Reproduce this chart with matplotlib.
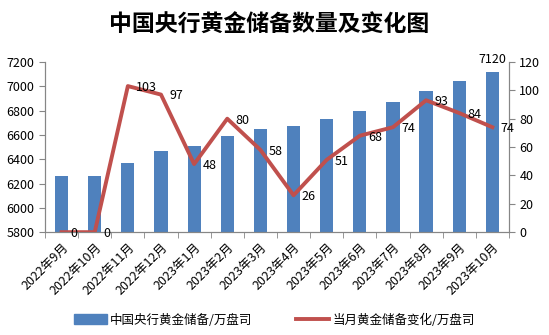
import numpy as np
import matplotlib.pyplot as plt
from matplotlib.lines import Line2D
from matplotlib.patches import Patch

plt.rcParams['font.family'] = ['Noto Sans CJK SC', 'DejaVu Sans']

# Monthly data
months = ['2022年9月', '2022年10月', '2022年11月', '2022年12月', '2023年1月',
          '2023年2月', '2023年3月', '2023年4月', '2023年5月', '2023年6月',
          '2023年7月', '2023年8月', '2023年9月', '2023年10月']
reserves = [6264, 6264, 6367, 6464, 6512, 6592, 6650, 6676, 6727, 6795,
            6869, 6962, 7046, 7120]
changes = [0, 0, 103, 97, 48, 80, 58, 26, 51, 68, 74, 93, 84, 74]

bar_color = '#4F81BD'
line_color = '#C0504D'
axis_color = '#868686'

fig = plt.figure(figsize=(5.49, 3.35), dpi=100)
ax = fig.add_axes([0.082, 0.307, 0.845, 0.508])
ax2 = ax.twinx()

x = np.arange(len(months))
ax.bar(x, reserves, width=0.4, color=bar_color, zorder=2)
ax.set_ylim(5800, 7200)
ax.set_yticks(range(5800, 7201, 200))
ax.set_xlim(-0.5, len(months) - 0.5)

# last bar value
ax.annotate(str(reserves[-1]), (x[-1], reserves[-1]), xytext=(0, 4),
            textcoords='offset points', ha='center', va='bottom', fontsize=9)

ax2.plot(x, changes, color=line_color, lw=2.8, zorder=3)
ax2.set_ylim(0, 120)
ax2.set_yticks(range(0, 121, 20))
for xi, v in zip(x, changes):
    ax2.annotate(str(v), (xi, v), xytext=(6, -1), textcoords='offset points',
                 ha='left', va='center', fontsize=9)

# category boundaries as ticks, labels at centres
ax.set_xticks(np.arange(-0.5, len(months), 1), minor=True)
ax.set_xticks(x)
ax.set_xticklabels(months, rotation=45, ha='right', rotation_mode='anchor', fontsize=9)
ax.tick_params(axis='x', which='major', length=0, pad=6)
ax.tick_params(axis='x', which='minor', length=4, color=axis_color)
ax.tick_params(axis='y', length=4, color=axis_color, labelsize=9)
ax2.tick_params(axis='y', length=4, color=axis_color, labelsize=9)

for a in (ax, ax2):
    a.spines['top'].set_visible(False)
    for s in ('left', 'right', 'bottom'):
        a.spines[s].set_color(axis_color)

fig.text(0.49, 0.925, '中国央行黄金储备数量及变化图', ha='center', va='center',
         fontsize=16.5, fontweight='bold')

handles = [Patch(color=bar_color), Line2D([0], [0], color=line_color, lw=2.8)]
fig.legend(handles, ['中国央行黄金储备/万盘司', '当月黄金储备变化/万盘司'],
           loc='center', bbox_to_anchor=(0.5, 0.045), ncol=2, frameon=False,
           fontsize=9, handlelength=2.6, handleheight=0.8, columnspacing=3.5,
           handletextpad=0.3)

fig.savefig('out.png', dpi=100)
